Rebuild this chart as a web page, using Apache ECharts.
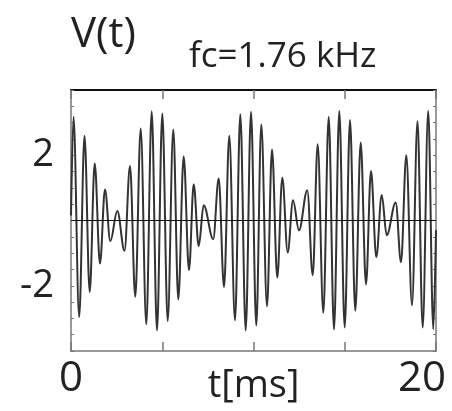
<!DOCTYPE html>
<html>
<head>
<meta charset="utf-8">
<script src="https://cdn.jsdelivr.net/npm/echarts@6/dist/echarts.min.js"></script>
<style>
  html, body { margin: 0; padding: 0; background: #fff; }
  #main { width: 452px; height: 411px; }
</style>
</head>
<body>
<div id="main"></div>
<script>
// Beat waveform V(t): successive crests and troughs of the 1.76 kHz carrier
const tMs = [0, 0.137, 0.449, 0.740, 1.025, 1.299, 1.589, 1.863, 2.153, 2.537,
  2.932, 3.233, 3.523, 3.819, 4.126, 4.422, 4.712, 5.003, 5.299, 5.605,
  5.879, 6.175, 6.466, 6.723, 6.997, 7.271, 7.792, 8.093, 8.384, 8.674,
  8.986, 9.277, 9.573, 9.863, 10.153, 10.427, 10.740, 11.014, 11.304, 11.578,
  11.874, 12.164, 12.493, 12.948, 13.244, 13.518, 13.825, 14.121, 14.411, 14.701,
  14.997, 15.288, 15.578, 15.874, 16.164, 16.438, 16.729, 17.025, 17.299, 17.792,
  18.082, 18.373, 18.685, 18.986, 19.271, 19.573, 19.852, 20];
const volts = [0.15, 3.18, -2.96, 2.60, -2.19, 1.75, -1.32, 0.95, -0.63, 0.29,
  -0.93, 1.67, -2.34, 2.82, -3.18, 3.35, -3.37, 3.28, -3.08, 2.79,
  -2.42, 1.96, -1.52, 1.11, -0.78, 0.47, -0.57, 1.29, -2.04, 2.60,
  -3.06, 3.26, -3.37, 3.33, -3.22, 2.94, -2.63, 2.18, -1.75, 1.31,
  -0.98, 0.62, -0.30, 0.93, -1.68, 2.34, -2.83, 3.18, -3.34, 3.36,
  -3.28, 3.08, -2.77, 2.39, -1.96, 1.52, -1.12, 0.78, -0.45, 0.55,
  -1.28, 2.00, -2.60, 3.04, -3.28, 3.36, -3.33, -0.30];

const xTickLabels = ['0', '20'];   // only the ends of the time axis are labelled
const yTickLabels = ['2', '-2'];

const FONT = 'Open Sans';
const TEXT = '#222';
const FRAME = '#777';

const points = tMs.map((t, i) => [t, volts[i]]);

const chart = echarts.init(document.getElementById('main'), null, { renderer: 'canvas' });

const option = {
  animation: false,
  backgroundColor: '#fff',
  title: [
    { text: 'V(t)', left: 66, top: 9,
      textStyle: { fontFamily: FONT, fontSize: 42, fontWeight: 'normal', color: TEXT } },
    { text: 'fc=1.76 kHz', left: 184, top: 35,
      textStyle: { fontFamily: FONT, fontSize: 35, fontWeight: 'normal', color: TEXT } }
  ],
  grid: { left: 71, right: 16, top: 90, bottom: 60, containLabel: false, outerBoundsMode: 'none' },
  xAxis: [
    {
      type: 'value', position: 'bottom', min: 0, max: 20, interval: 5,
      name: 't[ms]', nameLocation: 'middle', nameGap: 16, nameMoveOverlap: false,
      nameTextStyle: { fontFamily: FONT, fontSize: 38, color: TEXT, verticalAlign: 'top' },
      axisLine: { onZero: false, lineStyle: { color: FRAME, width: 1.5 } },
      axisTick: { inside: true, length: 9, lineStyle: { color: FRAME, width: 1.5 } },
      splitLine: { show: false },
      axisLabel: {
        margin: 7, fontFamily: FONT, fontSize: 42, color: TEXT,
        formatter: v => {
          const s = String(v);
          if (!xTickLabels.includes(s)) return '';
          return v === 20 ? '{end|' + s + '}' : s;
        },
        rich: { end: { fontFamily: FONT, fontSize: 42, color: TEXT, padding: [0, 28, 0, 0] } }
      }
    },
    {
      type: 'value', position: 'top', min: 0, max: 20, interval: 5,
      axisLine: { onZero: false, lineStyle: { color: '#111', width: 2 } },
      axisTick: { inside: true, length: 9, lineStyle: { color: FRAME, width: 1.5 } },
      axisLabel: { show: false }, splitLine: { show: false }
    }
  ],
  yAxis: [
    {
      type: 'value', position: 'left', min: -4, max: 4, interval: 0.5,
      axisLine: { show: true, onZero: false, lineStyle: { color: FRAME, width: 1.5 } },
      axisTick: { show: true, inside: true, length: 3, lineStyle: { color: FRAME } },
      splitLine: { show: false },
      axisLabel: {
        margin: 17, fontFamily: FONT, fontSize: 38, color: TEXT,
        formatter: v => (yTickLabels.includes(String(v)) ? String(v) : '')
      }
    },
    {
      type: 'value', position: 'right', min: -4, max: 4, interval: 0.5,
      axisLine: { show: true, onZero: false, lineStyle: { color: FRAME, width: 1.5 } },
      axisTick: { show: true, inside: true, length: 3, lineStyle: { color: FRAME } },
      axisLabel: { show: false }, splitLine: { show: false }
    }
  ],
  series: [
    {
      type: 'line',
      data: points,
      showSymbol: false,
      smooth: 0.36,
      smoothMonotone: 'x',
      clip: true,
      lineStyle: { color: '#333', width: 2 },
      markLine: {
        silent: true, symbol: 'none', label: { show: false },
        lineStyle: { color: '#111', width: 1, type: 'solid' },
        data: [{ yAxis: 0 }]
      }
    }
  ]
};

chart.setOption(option);
</script>
</body>
</html>
